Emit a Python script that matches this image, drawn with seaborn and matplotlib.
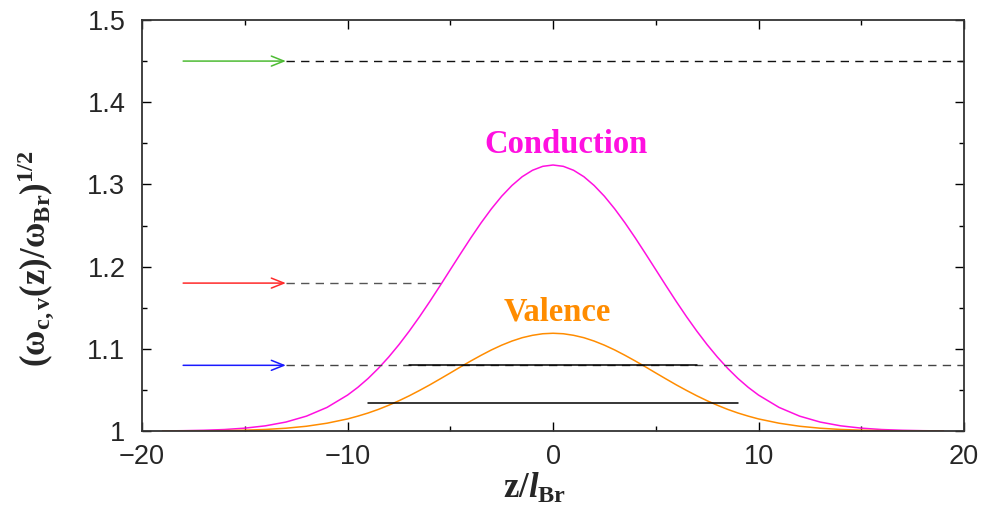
import matplotlib
matplotlib.use("Agg")
import matplotlib.pyplot as plt
import seaborn as sns
import pandas as pd

# ---- data ----
z = [-19, -18, -17, -16, -15, -14, -13, -12, -11,
     -10, -9.5, -9, -8.5, -8, -7.5, -7, -6.5, -6, -5.5, -5, -4.5, -4, -3.5, -3, -2.5, -2, -1.5, -1, -0.5,
     0, 0.5, 1, 1.5, 2, 2.5, 3, 3.5, 4, 4.5, 5, 5.5, 6, 6.5, 7, 7.5, 8, 8.5, 9, 9.5, 10,
     11, 12, 13, 14, 15, 16, 17, 18, 19]
conduction = [1.0002, 1.0005, 1.0010, 1.0019, 1.0036, 1.0064, 1.0110, 1.0182, 1.0288,
              1.0438, 1.0532, 1.0640, 1.0763, 1.0900, 1.1051, 1.1215, 1.1390, 1.1575, 1.1767, 1.1963,
              1.2158, 1.2350, 1.2533, 1.2703, 1.2856, 1.2987, 1.3094, 1.3172, 1.3220,
              1.3236, 1.3220, 1.3172, 1.3094, 1.2987, 1.2856, 1.2703, 1.2533, 1.2350, 1.2158,
              1.1963, 1.1767, 1.1575, 1.1390, 1.1215, 1.1051, 1.0900, 1.0763, 1.0640, 1.0532, 1.0438,
              1.0288, 1.0182, 1.0110, 1.0064, 1.0036, 1.0019, 1.0010, 1.0005, 1.0002]
valence = [1.0001, 1.0001, 1.0003, 1.0006, 1.0011, 1.0020, 1.0035, 1.0059, 1.0096,
           1.0148, 1.0182, 1.0220, 1.0264, 1.0314, 1.0369, 1.0429, 1.0494, 1.0562, 1.0634, 1.0707,
           1.0781, 1.0853, 1.0922, 1.0987, 1.1045, 1.1095, 1.1136, 1.1165, 1.1184,
           1.1190, 1.1184, 1.1165, 1.1136, 1.1095, 1.1045, 1.0987, 1.0922, 1.0853, 1.0781,
           1.0707, 1.0634, 1.0562, 1.0494, 1.0429, 1.0369, 1.0314, 1.0264, 1.0220, 1.0182, 1.0148,
           1.0096, 1.0059, 1.0035, 1.0020, 1.0011, 1.0006, 1.0003, 1.0001, 1.0001]

# incoming levels (arrows + dashed continuation)
level_y = [1.45, 1.18, 1.08]
level_colors = ["#4dbb33", "#ff2a2a", "#1a1aff"]
arrow_start = -18.0
arrow_end = -13.0
dash_end = [20.0, -5.45, 20.0]
dash_colors = ["#111111", "#555555", "#444444"]

# bound-state bars
bar_y = [1.08, 1.034]
bar_xmin = [-7.0, -9.0]
bar_xmax = [7.0, 9.0]

xticks = [-20, -10, 0, 10, 20]
xtick_labels = ["\u221220", "\u221210", "0", "10", "20"]
yticks = [1.0, 1.1, 1.2, 1.3, 1.4, 1.5]
ytick_labels = ["1", "1.1", "1.2", "1.3", "1.4", "1.5"]

# ---- styling ----
sns.set_theme(style="ticks")
plt.rcParams["font.family"] = ["Liberation Sans", "DejaVu Sans"]
plt.rcParams["mathtext.fontset"] = "custom"
plt.rcParams["mathtext.rm"] = "Liberation Serif:bold"
plt.rcParams["mathtext.bf"] = "Liberation Serif:bold"
plt.rcParams["mathtext.it"] = "Liberation Serif:italic:bold"

fig = plt.figure(figsize=(9.83, 5.12), dpi=100)
ax = fig.add_axes([0.1445, 0.158, 0.8362, 0.803])

df = pd.DataFrame({"z": z, "Conduction": conduction, "Valence": valence})
sns.lineplot(data=df, x="z", y="Conduction", ax=ax, color="#ff10e0", lw=1.1)
sns.lineplot(data=df, x="z", y="Valence", ax=ax, color="#ff8c00", lw=1.1)

for y, c, xe, dc in zip(level_y, level_colors, dash_end, dash_colors):
    ax.plot([arrow_end, xe], [y, y], color=dc, lw=1.0, dashes=(6, 4.5))
    ax.annotate("", xy=(arrow_end, y), xytext=(arrow_start, y),
                arrowprops=dict(arrowstyle="->,head_length=0.75,head_width=0.3",
                                color=c, lw=1.1, shrinkA=0, shrinkB=0))

for y, x0, x1 in zip(bar_y, bar_xmin, bar_xmax):
    ax.plot([x0, x1], [y, y], color="black", lw=1.1)

ax.text(0.63, 1.349, "Conduction", color="#ff10e0", ha="center", va="center",
        fontsize=23.5, fontweight="bold", family="Liberation Serif")
ax.text(0.22, 1.145, "Valence", color="#ff8c00", ha="center", va="center",
        fontsize=23.5, fontweight="bold", family="Liberation Serif")

ax.set_xlim(-20, 20)
ax.set_ylim(1.0, 1.5)
ax.set_xticks(xticks)
ax.set_xticklabels(xtick_labels)
ax.set_yticks(yticks)
ax.set_yticklabels(ytick_labels)
ax.set_xticks([-15, -5, 5, 15], minor=True)
ax.set_yticks([1.05, 1.15, 1.25, 1.35, 1.45], minor=True)
ax.tick_params(which="both", direction="in", top=True, right=True, color="black")
ax.tick_params(axis="y", which="major", length=6.5, width=1.0, labelsize=19.5, pad=12)
ax.tick_params(axis="x", which="major", length=6.5, width=1.0, labelsize=19.5, pad=9)
ax.tick_params(which="minor", length=3.5, width=1.0)
for s in ax.spines.values():
    s.set_color("#333333")
    s.set_linewidth(1.3)

ax.set_xlabel(r"$\mathrm{z}/\mathit{l}_{\mathrm{Br}}$", fontsize=25)
ax.xaxis.set_label_coords(0.478, -0.098)
ax.set_ylabel(r"$(\mathrm{\omega}_{\mathrm{c,v}}(\mathrm{z})/\mathrm{\omega}_{\mathrm{Br}})^{\mathrm{1/2}}$",
              fontsize=25)
ax.yaxis.set_label_coords(-0.103, 0.42)

fig.savefig("out.png", dpi=100)
